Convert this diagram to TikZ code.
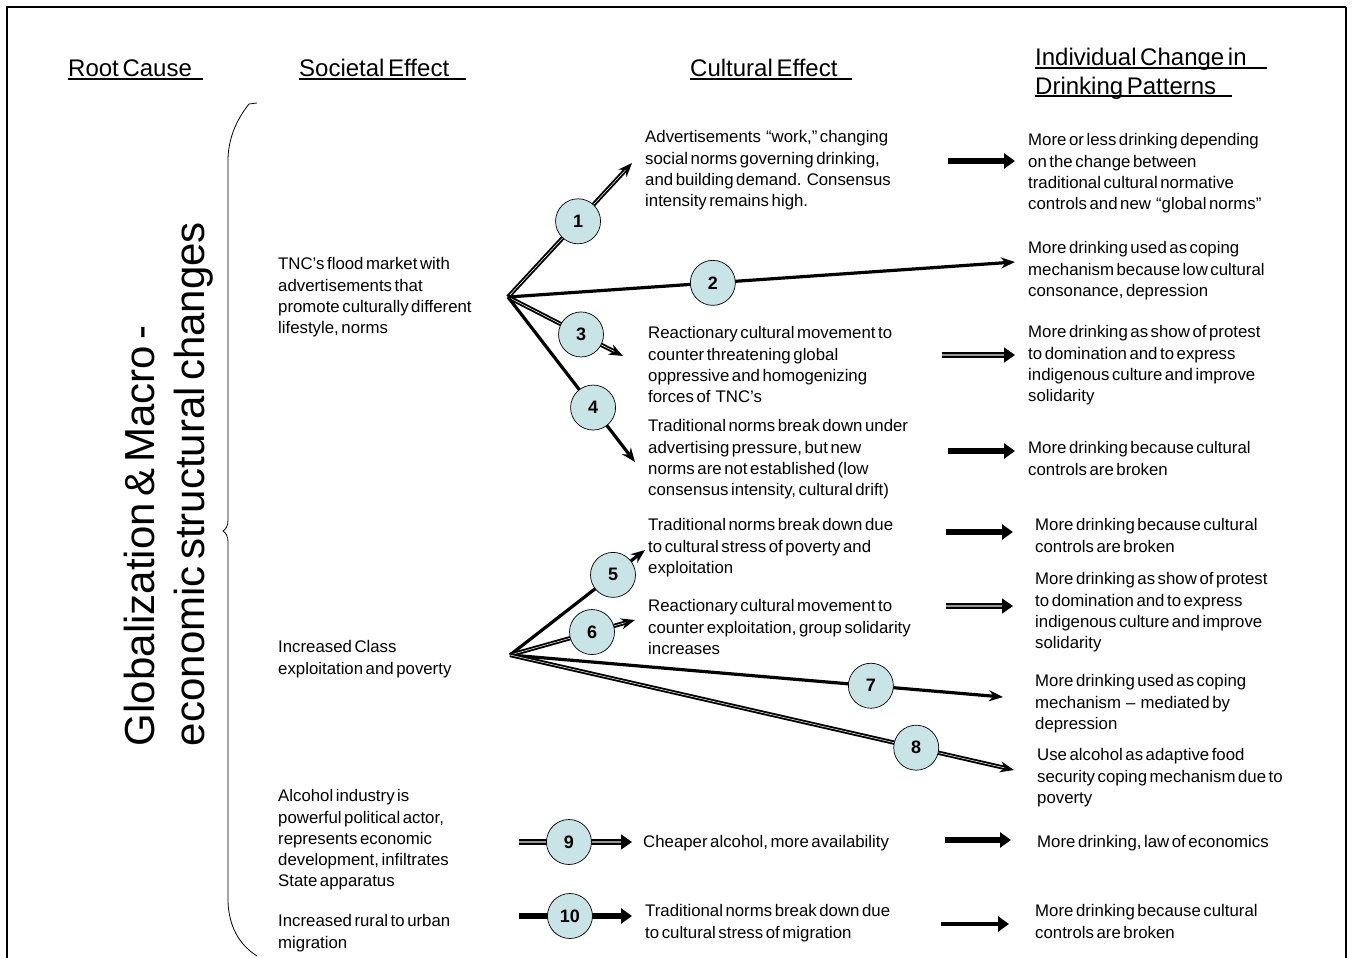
\documentclass[tikz,border=0pt]{standalone}
\usepackage{fontspec}
\setmainfont{Liberation Sans}[WordSpace=0.55]
\usetikzlibrary{arrows.meta}
\definecolor{numfill}{RGB}{200,228,230}
\definecolor{shaftgray}{RGB}{150,150,150}

\begin{document}
\begin{tikzpicture}[x=1pt,y=-1pt,
  body/.style={anchor=north west, align=left, inner sep=0pt,
    font=\fontsize{16.8}{21.2}\selectfont},
  hdr/.style={anchor=base west, inner sep=0pt, font=\fontsize{24}{28}\selectfont},
  uline/.style={line width=1.3pt},
  num/.style={circle, draw=black, fill=numfill, line width=0.7pt,
    minimum size=45pt, inner sep=0pt, font=\fontsize{18}{18}\selectfont\bfseries},
  fan/.style={line width=3.2pt, -{Stealth[length=14pt,width=11pt]}},
  fanhollow/.style={draw=black, line width=1.9pt, double=white, double distance=0.5pt,
    -{Stealth[length=14pt,width=11pt]}},
  blk/.style={line width=5.5pt, -{Triangle[length=11pt,width=15pt]}},
  blkhollow/.style={draw=black, line width=1.6pt, double=shaftgray, double distance=2.4pt,
    -{Triangle[length=11pt,width=15pt]}}
]
\useasboundingbox (0,0) rectangle (1352,958);

% page frame, open at the bottom
\draw[line width=1.3pt] (7,958) -- (7,7) -- (1346,7);
\draw[line width=2.4pt] (1346,7) -- (1346,958);

% column headings
\node[hdr] (h1) at (68,77) {Root Cause};
\node[hdr] (h2) at (299,77) {Societal Effect};
\node[hdr] (h3) at (690,77) {Cultural Effect};
\node[hdr] (h4) at (1035,66) {Individual Change in};
\node[hdr] (h5) at (1035,94) {Drinking Patterns};
\draw[uline] ([yshift=-2pt]h1.base west) -- ++(135,0);
\draw[uline] ([yshift=-2pt]h2.base west) -- ++(167,0);
\draw[uline] ([yshift=-2pt]h3.base west) -- ++(162,0);
\draw[uline] ([yshift=-2pt]h4.base west) -- ++(232,0);
\draw[uline] ([yshift=-2pt]h5.base west) -- ++(197,0);

% rotated root-cause banner and its bracket
\node[rotate=90, align=left, inner sep=0pt, font=\fontsize{42}{50}\selectfont] (banner)
  at (169,484) {Globalization \& Macro -\\economic structural changes};
\draw[line width=0.8pt] (257,103) -- (249,104) .. controls (238,118) and (229,135) .. (228,158)
  -- (228,520) .. controls (228,526) and (226,529) .. (223,531)
  .. controls (226,533) and (228,536) .. (228,542)
  -- (228,902) .. controls (229,925) and (238,944) .. (257,956);

% societal effects
\node[body] (r1) at (278,257.5) {TNC’s flood market with\\advertisements that\\promote culturally different\\lifestyle, norms};
\node[body] (r2) at (278,640.5) {Increased Class\\exploitation and poverty};
\node[body] (r3) at (278,789.5) {Alcohol industry is\\powerful political actor,\\represents economic\\development, infiltrates\\State apparatus};
\node[body] (r4) at (278,914.5) {Increased rural to urban\\migration};

% cultural effects
\node[body] (c1) at (645,130.5) {Advertisements \ “work,” changing\\social norms governing drinking,\\and building demand.\ \ Consensus\\intensity remains high.};
\node[body] (c3) at (648,326.5) {Reactionary cultural movement to\\counter threatening global\\oppressive and homogenizing\\forces of \ TNC’s};
\node[body] (c4) at (648,419.5) {Traditional norms break down under\\advertising pressure, but new\\norms are not established (low\\consensus intensity, cultural drift)};
\node[body] (c5) at (648,518.5) {Traditional norms break down due\\to cultural stress of poverty and\\exploitation};
\node[body] (c6) at (648,599.5) {Reactionary cultural movement to\\counter exploitation, group solidarity\\increases};
\node[body] (c9) at (643,835.5) {Cheaper alcohol, more availability};
\node[body] (c10) at (645,904.5) {Traditional norms break down due\\to cultural stress of migration};

% individual changes in drinking
\node[body] (i1) at (1028,133.5) {More or less drinking depending\\on the change between\\traditional cultural normative\\controls and new \ “global norms”};
\node[body] (i2) at (1028,241.5) {More drinking used as coping\\mechanism because low cultural\\consonance, depression};
\node[body] (i3) at (1028,325.5) {More drinking as show of protest\\to domination and to express\\indigenous culture and improve\\solidarity};
\node[body] (i4) at (1028,441.5) {More drinking because cultural\\controls are broken};
\node[body] (i5) at (1035,518.5) {More drinking because cultural\\controls are broken};
\node[body] (i6) at (1035,572.5) {More drinking as show of protest\\to domination and to express\\indigenous culture and improve\\solidarity};
\node[body] (i7) at (1035,674.5) {More drinking used as coping\\mechanism \ – \ mediated by\\depression};
\node[body] (i8) at (1037,748.5) {Use alcohol as adaptive food\\security coping mechanism due to\\poverty};
\node[body] (i9) at (1037,835.5) {More drinking, law of economics};
\node[body] (i10) at (1035,904.5) {More drinking because cultural\\controls are broken};

% fan origins and arrow ends
\coordinate (fa) at (508,297);
\coordinate (fb) at (510,655);
\coordinate (t1) at (632,163);
\coordinate (t2) at (1015,262);
\coordinate (t3) at (623,356);
\coordinate (t4) at (635,462);
\coordinate (t5) at (645,550);
\coordinate (t6) at (635,620);
\coordinate (t7) at (1003,697);
\coordinate (t8) at (1014,770);
\coordinate (s9) at (519,842);
\coordinate (t9) at (632,842);
\coordinate (s10) at (519,916);
\coordinate (t10) at (632,916);

% numbered pathways
\draw[fanhollow] (fa) -- node[num, pos=0.565] (n1) {1} (t1);
\draw[fan] (fa) -- node[num, pos=0.404] (n2) {2} (t2);
\draw[fanhollow] (fa) -- node[num, pos=0.635] (n3) {3} (t3);
\draw[fan] (fa) -- node[num, pos=0.67] (n4) {4} (t4);
\draw[fan] (fb) -- node[num, pos=0.763] (n5) {5} (t5);
\draw[fanhollow] (fb) -- node[num, pos=0.656] (n6) {6} (t6);
\draw[fan] (fb) -- node[num, pos=0.732] (n7) {7} (t7);
\draw[fanhollow] (fb) -- node[num, pos=0.806] (n8) {8} (t8);
\draw[blkhollow] (s9) -- node[num, pos=0.442] (n9) {9} (t9);
\draw[blk] (s10) -- node[num, pos=0.451] (n10) {10} (t10);

% cultural effect to drinking pattern arrows
\coordinate (a1) at (948,161);  \coordinate (b1) at (1015,161);
\coordinate (a3) at (942,355);  \coordinate (b3) at (1015,355);
\coordinate (a4) at (948,451);  \coordinate (b4) at (1015,451);
\coordinate (a5) at (946,532);  \coordinate (b5) at (1013,532);
\coordinate (a6) at (946,606);  \coordinate (b6) at (1013,606);
\coordinate (a9) at (945,840);  \coordinate (b9) at (1011,840);
\coordinate (a10) at (941,924); \coordinate (b10) at (1009,924);
\draw[blk] (a1) -- (b1);
\draw[blkhollow] (a3) -- (b3);
\draw[blk] (a4) -- (b4);
\draw[blk] (a5) -- (b5);
\draw[blkhollow] (a6) -- (b6);
\draw[blk] (a9) -- (b9);
\draw[blk, line width=4.5pt] (a10) -- (b10);
\end{tikzpicture}
\end{document}
